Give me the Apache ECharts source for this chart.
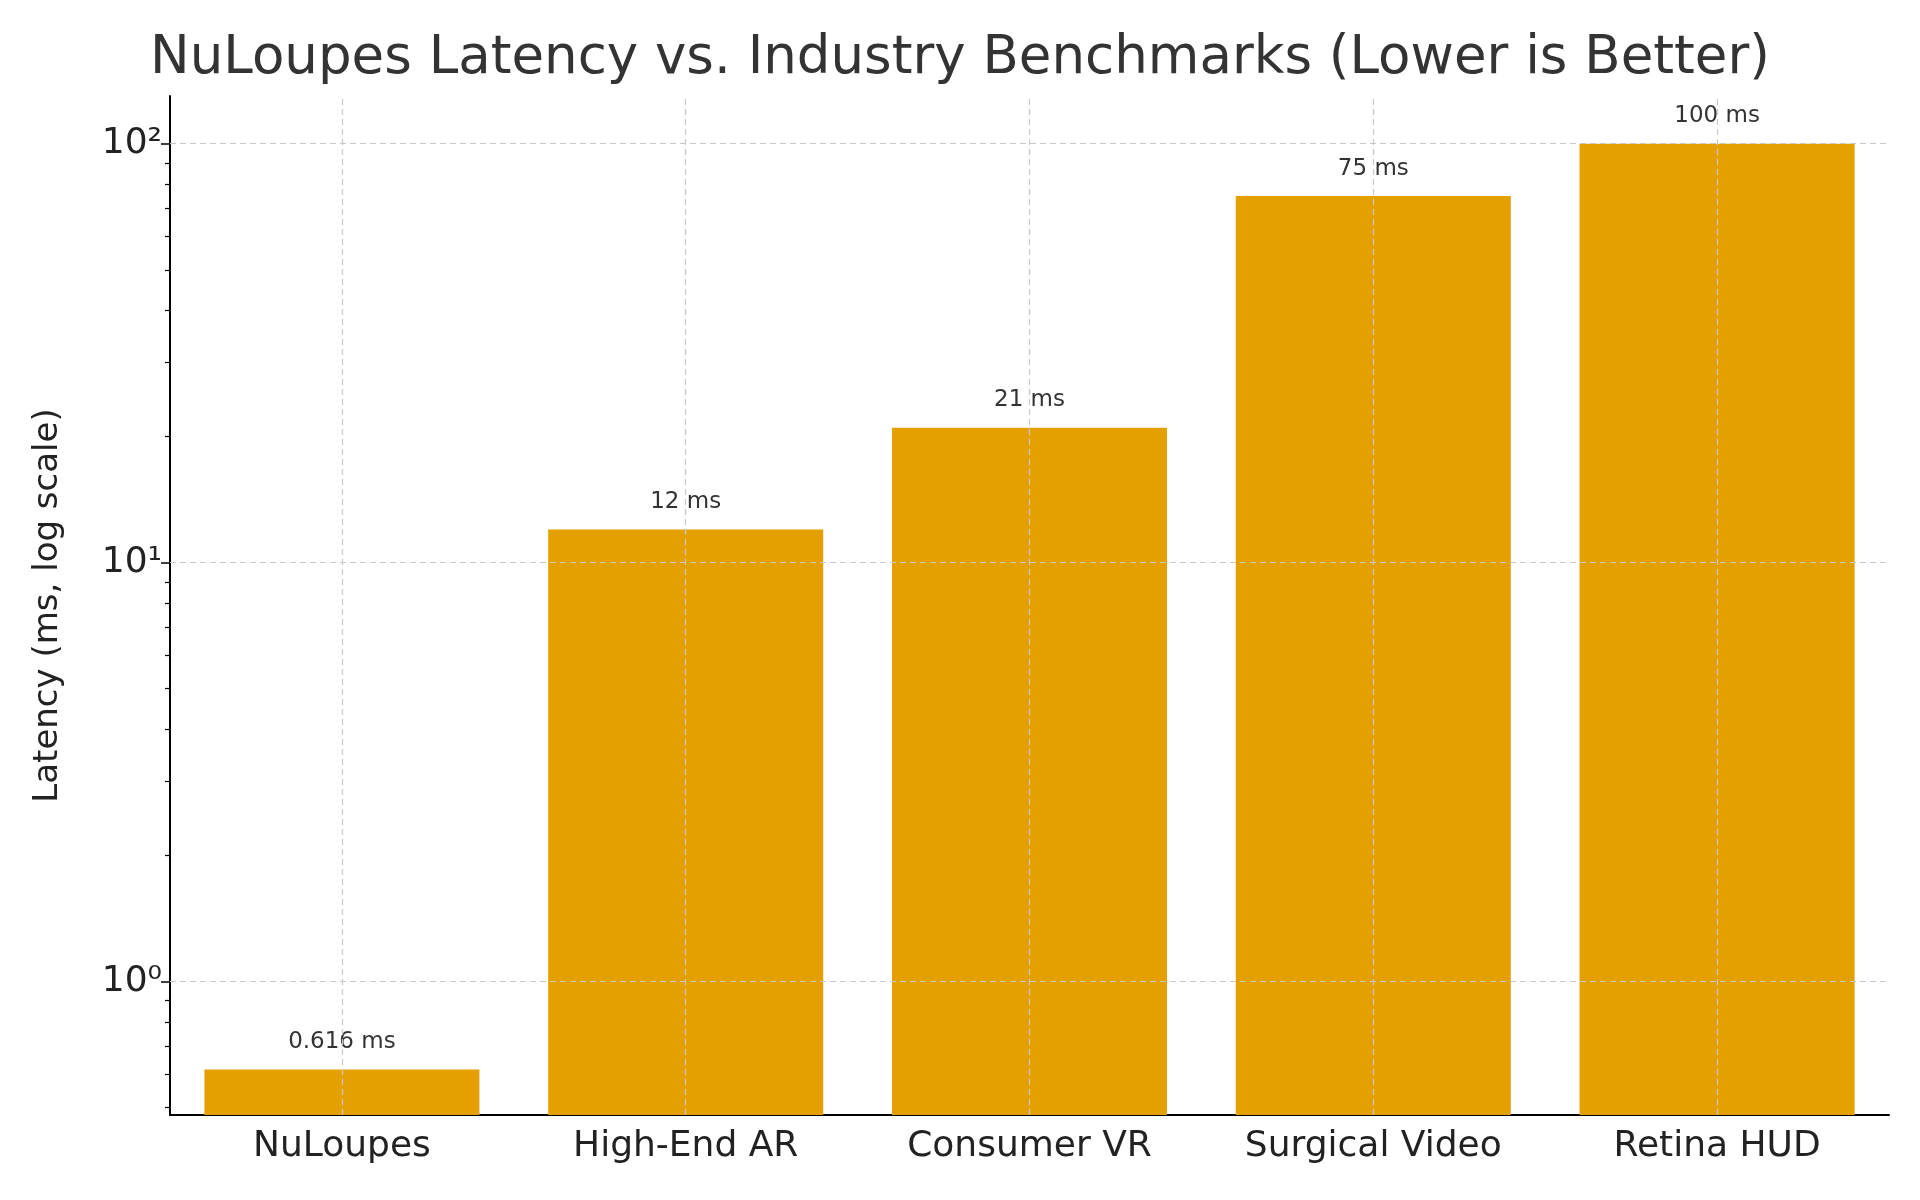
<!DOCTYPE html>
<html>
<head>
<meta charset="utf-8">
<script src="https://cdn.jsdelivr.net/npm/echarts@6/dist/echarts.min.js"></script>
<style>html,body{margin:0;background:#fff}#main{width:1920px;height:1200px}</style>
</head>
<body>
<div id="main"></div>
<script>
var categories = ['NuLoupes', 'High-End AR', 'Consumer VR', 'Surgical Video', 'Retina HUD'];
var latency = [0.616, 12, 21, 75, 100];
var majorTicks = [1, 10, 100];
var majorLabels = {1: '10⁰', 10: '10¹', 100: '10²'};
var minorTicks = [0.5, 0.6, 0.7, 0.8, 0.9, 2, 3, 4, 5, 6, 7, 8, 9, 20, 30, 40, 50, 60, 70, 80, 90];
var yMin = 0.48, yMax = 130;

var chart = echarts.init(document.getElementById('main'));
var font = 'DejaVu Sans';
var gridStyle = {color: '#c8c8c8', type: [6, 4], width: 1.2};
var lines = [];
majorTicks.forEach(function (v) { lines.push({yAxis: v}); });
categories.forEach(function (c) { lines.push({xAxis: c}); });

// bars drawn from the axis bottom (log bars would otherwise start at 1)
function renderBar(params, api) {
    var idx = api.value(0);
    var top = api.coord([idx, api.value(1)]);
    var base = api.coord([idx, yMin]);
    var w = api.size([1, 0])[0] * 0.8;
    return {
        type: 'group',
        children: [{
            type: 'rect',
            shape: {x: top[0] - w / 2, y: top[1], width: w, height: base[1] - top[1]},
            style: {fill: '#E3A000'}
        }, {
            type: 'text',
            style: {x: top[0], y: top[1] - 16, text: api.value(1) + ' ms', align: 'center', verticalAlign: 'bottom',
                font: '23px "DejaVu Sans"', fill: '#333'}
        }]
    };
}

var option = {
    title: {
        text: 'NuLoupes Latency vs. Industry Benchmarks (Lower is Better)',
        left: 'center', top: 28,
        textStyle: {fontFamily: font, fontSize: 53, fontWeight: 'normal', color: '#333'}
    },
    grid: {left: 170, right: 31, top: 96, bottom: 85},
    xAxis: {
        type: 'category', data: categories,
        axisLine: {lineStyle: {color: '#000', width: 2}},
        axisTick: {show: false},
        axisLabel: {fontFamily: font, fontSize: 36, color: '#222', margin: 14}
    },
    yAxis: [{
        type: 'log', logBase: 10, min: yMin, max: yMax,
        name: 'Latency (ms, log scale)', nameLocation: 'middle', nameGap: 105,
        nameTextStyle: {fontFamily: font, fontSize: 34, color: '#222'},
        axisLine: {show: true, lineStyle: {color: '#000', width: 2}},
        axisTick: {show: true, length: 9, lineStyle: {color: '#000', width: 1.5}, customValues: majorTicks},
        axisLabel: {fontFamily: font, fontSize: 36, color: '#222', customValues: majorTicks,
            formatter: function (v) { return majorLabels[Math.round(v)] || ''; }},
        splitLine: {show: false}
    }, {
        type: 'log', logBase: 10, min: yMin, max: yMax, position: 'left',
        axisLine: {show: false},
        axisTick: {show: true, length: 5, lineStyle: {color: '#000', width: 1.2}, customValues: minorTicks},
        axisLabel: {show: false},
        splitLine: {show: false}
    }],
    series: [{
        type: 'custom', renderItem: renderBar,
        data: latency.map(function (v, i) { return [i, v]; }),
        encode: {x: 0, y: 1},
        z: 1
    }, {
        type: 'line', data: [], z: 5,
        markLine: {silent: true, symbol: 'none', label: {show: false}, lineStyle: gridStyle, data: lines, z: 5}
    }]
};
chart.setOption(option);
</script>
</body>
</html>
